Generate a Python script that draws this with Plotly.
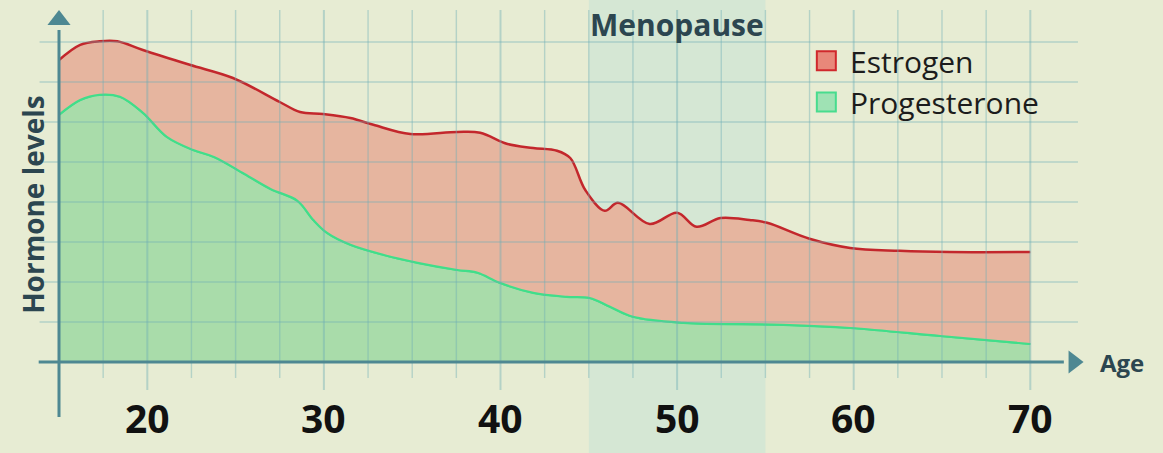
import plotly.graph_objects as go

# ---------------- data ----------------
ages_estrogen = [15, 16.2, 17.3, 18.3, 19.75, 22.4, 24.85, 27.5, 28.65, 29.95, 31.5, 32.8, 34.9,
                 37.55, 38.85, 40.4, 41.85, 43.2, 43.95, 44.8, 45.9, 46.65, 48.45, 50.0, 51.1,
                 52.45, 54.1, 55.1, 57.5, 59.8, 62.6, 65.45, 70]
estrogen = [7.55, 7.93, 8.02, 8.02, 7.8, 7.43, 7.1, 6.5, 6.25, 6.2, 6.1, 5.93, 5.7,
            5.75, 5.73, 5.45, 5.35, 5.28, 5.1, 4.3, 3.78, 3.98, 3.45, 3.73, 3.38,
            3.6, 3.55, 3.48, 3.08, 2.85, 2.78, 2.75, 2.75]

ages_progesterone = [15, 16.2, 17.3, 18.45, 19.75, 21.1, 22.6, 23.8, 25.5, 27.0, 28.5, 29.4,
                     30.2, 31.5, 33.35, 35.3, 37.55, 38.7, 39.95, 41.85, 43.75, 45.05, 46.2, 47.5,
                     50.35, 56.0, 59.8, 64.9, 70]
progesterone = [6.18, 6.55, 6.68, 6.63, 6.23, 5.63, 5.3, 5.12, 4.7, 4.32, 4.03, 3.55,
                3.22, 2.93, 2.68, 2.48, 2.3, 2.23, 1.98, 1.73, 1.63, 1.6, 1.38, 1.13,
                0.98, 0.93, 0.85, 0.65, 0.45]

tick_ages = [20, 30, 40, 50, 60, 70]
tick_labels = ["20", "30", "40", "50", "60", "70"]
grid_ages = [15 + 2.5 * i for i in range(23)]   # 15 ... 70
levels = [1, 2, 3, 4, 5, 6, 7, 8]
menopause_start, menopause_end = 45, 55
series_names = ["Estrogen", "Progesterone"]

# ---------------- style ----------------
BG = "#e7ecd3"
BAND = "#d5e7d4"
AXIS = "#4e8892"
GRID = "rgba(110,175,180,0.42)"
EST_LINE = "#c3272c"
EST_FILL = "#e6b59f"
PRO_LINE = "#40de8a"
PRO_FILL = "#a9dcaa"
DARK = "#2c4650"
FONT = "Open Sans"
SMOOTH = 1.0

# pixel geometry -> data ranges (x: 17.66 px / year, age 15 at px 59; y: 40 px / level, 0 at py 362)
W, H = 1163, 453
px_per_year, x0_px, age0 = 17.66, 59, 15
px_per_level, y0_px = 40, 362
x_range = [age0 - x0_px / px_per_year, age0 + (W - x0_px) / px_per_year]
y_range = [-(H - y0_px) / px_per_level, y0_px / px_per_level]

fig = go.Figure()

# progesterone area
fig.add_trace(go.Scatter(
    x=ages_progesterone, y=progesterone, mode="lines", fill="tozeroy",
    fillcolor=PRO_FILL, line=dict(color=PRO_LINE, width=2, shape="spline", smoothing=SMOOTH),
    showlegend=False, hoverinfo="skip"))
# estrogen area stacked above progesterone curve
fig.add_trace(go.Scatter(
    x=ages_progesterone, y=progesterone, mode="lines",
    line=dict(color="rgba(0,0,0,0)", width=0, shape="spline", smoothing=SMOOTH),
    showlegend=False, hoverinfo="skip"))
fig.add_trace(go.Scatter(
    x=ages_estrogen, y=estrogen, mode="lines", fill="tonexty",
    fillcolor=EST_FILL, line=dict(color=EST_LINE, width=2.5, shape="spline", smoothing=SMOOTH),
    showlegend=False, hoverinfo="skip"))
# redraw progesterone line on top
fig.add_trace(go.Scatter(
    x=ages_progesterone, y=progesterone, mode="lines",
    line=dict(color=PRO_LINE, width=2.2, shape="spline", smoothing=SMOOTH),
    showlegend=False, hoverinfo="skip"))

shapes = []
# menopause band
shapes.append(dict(type="rect", xref="x", yref="y", x0=menopause_start, x1=menopause_end,
                   y0=y_range[0], y1=y_range[1], fillcolor=BAND, line=dict(width=0), layer="below"))
# horizontal grid
for lv in levels:
    shapes.append(dict(type="line", xref="x", yref="y", x0=13.9, x1=72.7, y0=lv, y1=lv,
                       line=dict(color=GRID, width=1.5), layer="above"))
# vertical grid + ticks
for a in grid_ages[1:]:
    major = a in tick_ages
    shapes.append(dict(type="line", xref="x", yref="y", x0=a, x1=a, y0=-0.7 if major else -0.4,
                       y1=8.8, line=dict(color=GRID, width=2 if major else 1.4), layer="above"))
# axes
shapes.append(dict(type="line", xref="x", yref="y", x0=13.85, x1=71.9, y0=0, y1=0,
                   line=dict(color=AXIS, width=3), layer="above"))
shapes.append(dict(type="line", xref="x", yref="y", x0=15, x1=15, y0=-1.375, y1=8.3,
                   line=dict(color=AXIS, width=3), layer="above"))

# arrow heads
fig.add_trace(go.Scatter(x=[72.45], y=[0], mode="markers",
                         marker=dict(symbol="triangle-right", size=20, color=AXIS),
                         showlegend=False, hoverinfo="skip"))
fig.add_trace(go.Scatter(x=[15], y=[8.55], mode="markers",
                         marker=dict(symbol="triangle-up", size=20, color=AXIS),
                         showlegend=False, hoverinfo="skip"))

# legend squares
fig.add_trace(go.Scatter(x=[58.45], y=[7.53], mode="markers",
                         marker=dict(symbol="square", size=19, color="#e8887a",
                                     line=dict(color="#d0282c", width=2)),
                         showlegend=False, hoverinfo="skip"))
fig.add_trace(go.Scatter(x=[58.45], y=[6.5], mode="markers",
                         marker=dict(symbol="square", size=19, color="#9fe2b4",
                                     line=dict(color="#48dc8e", width=2)),
                         showlegend=False, hoverinfo="skip"))

annotations = []
for a, lab in zip(tick_ages, tick_labels):
    annotations.append(dict(x=a, y=-1.39, xref="x", yref="y", text=lab, showarrow=False,
                            font=dict(family=FONT, size=39, color="#111111", weight="bold"),
                            xanchor="center", yanchor="middle"))
annotations.append(dict(x=59.7, y=7.52, xref="x", yref="y", text=series_names[0], showarrow=False,
                        font=dict(family=FONT, size=30, color="#1c1c1c"), xanchor="left", yanchor="middle"))
annotations.append(dict(x=59.7, y=6.48, xref="x", yref="y", text=series_names[1], showarrow=False,
                        font=dict(family=FONT, size=30, color="#1c1c1c"), xanchor="left", yanchor="middle"))
annotations.append(dict(x=50, y=8.43, xref="x", yref="y", text="Menopause", showarrow=False,
                        font=dict(family=FONT, size=30, color=DARK, weight="bold"),
                        xanchor="center", yanchor="middle"))
annotations.append(dict(x=75.2, y=0, xref="x", yref="y", text="Age", showarrow=False,
                        font=dict(family=FONT, size=24, color=DARK, weight="bold"),
                        xanchor="center", yanchor="middle"))
annotations.append(dict(x=13.53, y=3.93, xref="x", yref="y", text="Hormone levels", showarrow=False,
                        textangle=-90,
                        font=dict(family=FONT, size=28, color=DARK, weight="bold"),
                        xanchor="center", yanchor="middle"))

fig.update_layout(
    width=W, height=H, margin=dict(l=0, r=0, t=0, b=0),
    paper_bgcolor=BG, plot_bgcolor=BG,
    xaxis=dict(range=x_range, visible=False, fixedrange=True),
    yaxis=dict(range=y_range, visible=False, fixedrange=True),
    shapes=shapes, annotations=annotations, showlegend=False,
)

fig.write_html("out.html", config={"displayModeBar": False},
               post_script="document.body.style.margin='0px';document.body.style.background='" + BG + "';")
